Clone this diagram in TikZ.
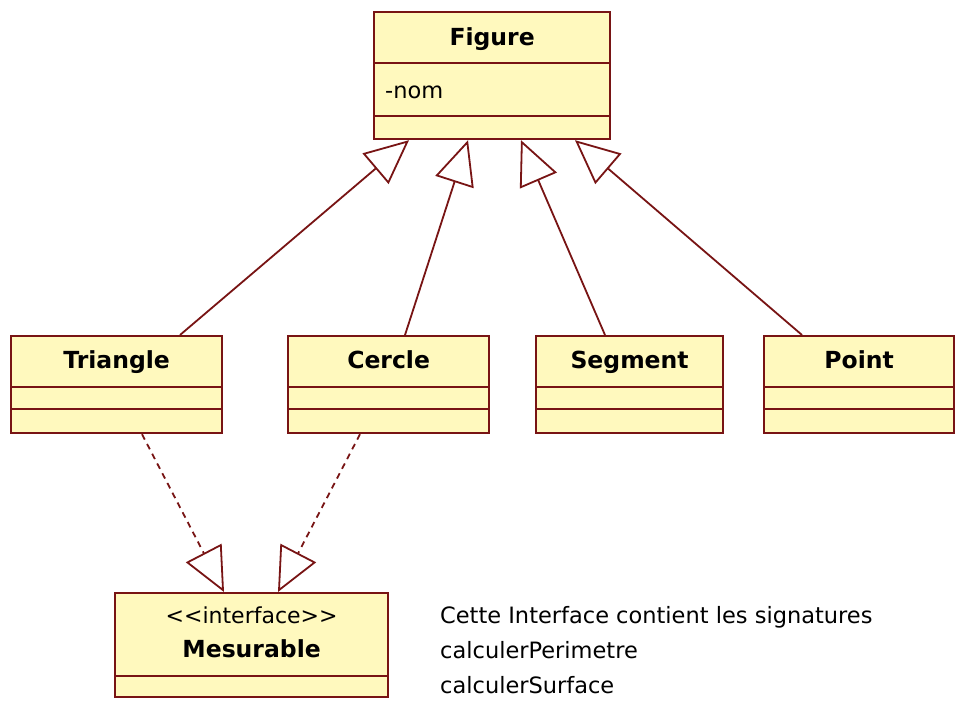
\documentclass[tikz,border=0pt]{standalone}
\usepackage{fontspec}
\setmainfont{DejaVu Sans}
\usetikzlibrary{arrows.meta,calc}
\definecolor{umlline}{RGB}{120,20,20}
\definecolor{umlfill}{RGB}{255,249,190}

\begin{document}
\begin{tikzpicture}[x=1pt,y=-1pt,
  classbox/.style={draw=umlline, fill=umlfill, line width=2.2pt, inner sep=0pt, anchor=north west},
  divider/.style={draw=umlline, line width=2.2pt},
  cname/.style={anchor=base, inner sep=0pt, font=\fontsize{23.5}{27}\selectfont\bfseries},
  ctext/.style={anchor=base west, inner sep=0pt, font=\fontsize{22.5}{26}\selectfont},
  ctextc/.style={anchor=base, inner sep=0pt, font=\fontsize{22}{26}\selectfont},
  inherit/.style={draw=umlline, line width=1.8pt, -{Triangle[open, length=44pt, width=40pt]}},
  realize/.style={inherit, dash pattern=on 6pt off 5pt}]
\useasboundingbox (0,0) rectangle (955,702);
\fill[white] (0,0) rectangle (955,702);

% superclass
\node[classbox, minimum width=236pt, minimum height=127pt] (fig) at (373,11) {};
\draw[divider] ([yshift=-52pt]fig.north west) -- ([yshift=-52pt]fig.north east);
\draw[divider] ([yshift=-105pt]fig.north west) -- ([yshift=-105pt]fig.north east);
\node[cname] (figname) at ($(fig.north)+(0,34)$) {Figure};
\node[ctext] (figattr) at ($(fig.north west)+(12,87)$) {-nom};

% subclasses
\node[classbox, minimum width=211pt, minimum height=97pt] (tri) at (10,335) {};
\node[classbox, minimum width=201pt, minimum height=97pt] (cer) at (287,335) {};
\node[classbox, minimum width=187pt, minimum height=97pt] (seg) at (535,335) {};
\node[classbox, minimum width=190pt, minimum height=97pt] (pt) at (763,335) {};
\foreach \c/\t in {tri/Triangle, cer/Cercle, seg/Segment, pt/Point}{
  \draw[divider] ([yshift=-52pt]\c.north west) -- ([yshift=-52pt]\c.north east);
  \draw[divider] ([yshift=-74pt]\c.north west) -- ([yshift=-74pt]\c.north east);
  \node[cname] (\c name) at ($(\c.north)+(0,33)$) {\t};
}

% interface
\node[classbox, minimum width=273pt, minimum height=104pt] (mes) at (114,592) {};
\draw[divider] ([yshift=-84pt]mes.north west) -- ([yshift=-84pt]mes.north east);
\node[ctextc] (stereo) at ($(mes.north)+(0,31)$) {<{}<interface>{}>};
\node[cname] (mesname) at ($(mes.north)+(0,65)$) {Mesurable};

% generalisations
\draw[inherit] ([xshift=170pt]tri.north west) -- ([xshift=36pt]fig.south west);
\draw[inherit] ([xshift=118pt]cer.north west) -- ([xshift=95pt]fig.south west);
\draw[inherit] ([xshift=70pt]seg.north west) -- ([xshift=148pt]fig.south west);
\draw[inherit] ([xshift=39pt]pt.north west) -- ([xshift=202pt]fig.south west);

% realisations
\draw[realize] ([xshift=132pt]tri.south west) -- ([xshift=110pt]mes.north west);
\draw[realize] ([xshift=73pt]cer.south west) -- ([xshift=164pt]mes.north west);

% note text
\node[ctext] (note1) at (440,623) {Cette Interface contient les signatures};
\node[ctext] (note2) at (440,658) {calculerPerimetre};
\node[ctext] (note3) at (440,693) {calculerSurface};
\end{tikzpicture}
\end{document}
